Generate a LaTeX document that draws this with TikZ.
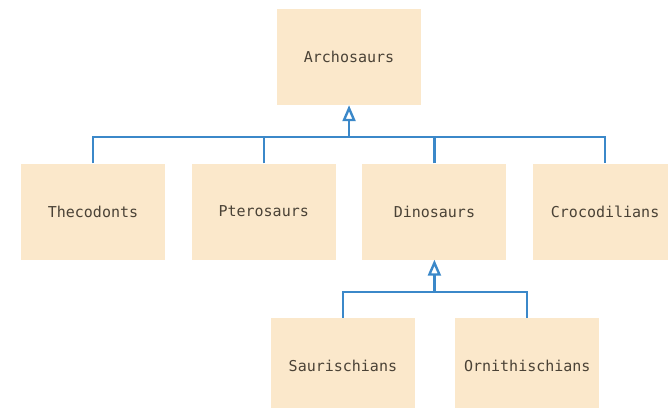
\documentclass[tikz,border=0pt]{standalone}
\usepackage{fontspec}
\setmonofont{DejaVu Sans Mono}
\usetikzlibrary{arrows.meta,calc,positioning}
\definecolor{boxfill}{HTML}{FBE8CB}
\definecolor{boxtext}{HTML}{4A4236}
\definecolor{linkblue}{HTML}{3B88C9}

\begin{document}
\begin{tikzpicture}[x=1pt,y=1pt,
		taxon/.style={rectangle,fill=boxfill,minimum width=144pt,minimum height=96pt,inner sep=0pt,
			text=boxtext,font=\ttfamily\fontsize{15}{17}\selectfont},
		link/.style={draw=linkblue,line width=2.2pt},
		inherit/.style={link,-{Triangle[open,length=16pt,width=13pt,line width=2.4pt]}},
		node distance=26.3pt]
		\useasboundingbox (0,0) rectangle (668,-407);
		% second row
		\node[taxon] (thec) at (93,-211.5) {Thecodonts};
		\node[taxon] [right=of thec] (ptero) {Pterosaurs};
		\node[taxon] [right=of ptero] (dino) {Dinosaurs};
		\node[taxon] [right=of dino] (croc) {Crocodilians};
		% top and bottom
		\node[taxon] (arch) at ($(ptero)!0.5!(dino)+(0,154.5)$) {Archosaurs};
		\node[taxon] (saur) at ($(dino)+(-91.5,-154.5)$) {Saurischians};
		\node[taxon] [right=40pt of saur] (orni) {Ornithischians};
		% connectors
		\coordinate (bartop) at ($(arch.south)+(0,-32)$);
		\coordinate (barlow) at ($(dino.south)+(0,-32)$);
		\draw[link] (thec.north) |- (croc.north |- bartop) -- (croc.north);
		\draw[link] (ptero.north) -- (ptero.north |- bartop);
		\draw[link] (dino.north) -- (dino.north |- bartop);
		\draw[inherit] (bartop) -- (arch.south);
		\draw[link] (saur.north) |- (orni.north |- barlow) -- (orni.north);
		\draw[inherit] (barlow) -- (dino.south);
	\end{tikzpicture}
\end{document}
